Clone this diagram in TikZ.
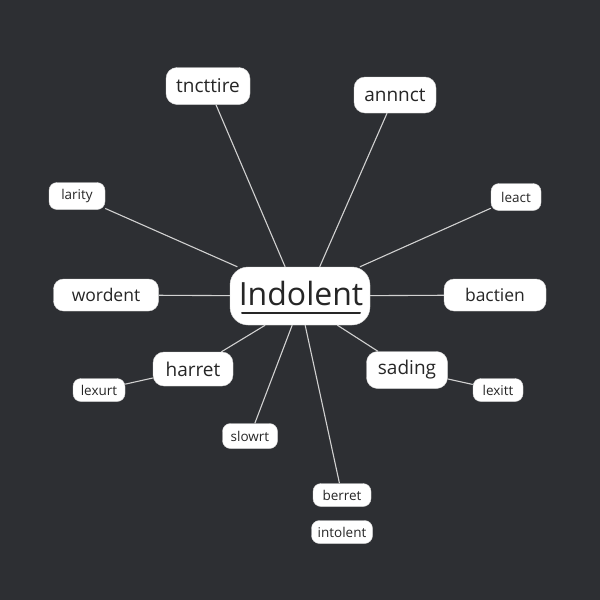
\documentclass[tikz,border=0pt]{standalone}
\usepackage{fontspec}
\setmainfont{Open Sans}
\begin{document}
\begin{tikzpicture}[x=1pt,y=-1pt,
  bub/.style={draw=white!85!black, fill=white, rounded corners=11pt, inner sep=0pt, text=black!85},
  big/.style={bub, font=\fontsize{19}{22}\selectfont},
  mid/.style={bub, font=\fontsize{17.5}{20}\selectfont, rounded corners=10pt},
  sml/.style={bub, font=\fontsize{13.5}{15}\selectfont, rounded corners=8pt},
  link/.style={draw=white!82!black, line width=1.1pt}]
\fill[fill={rgb,255:red,45;green,47;blue,51}] (0,0) rectangle (600,600);
\useasboundingbox (0,0) rectangle (600,600);
\node[bub, minimum width=140pt, minimum height=58pt, rounded corners=18pt] (c) at (300,296) {};
\node[font=\fontsize{32}{34}\selectfont, text=black!85, inner sep=0pt] (ct) at (301,293) {Indolent};
\draw[line width=2pt, black!85, line cap=round] (242,313) -- (360,313);
\node[big, minimum width=84pt, minimum height=37pt] (t) at (208,86) {tncttire};
\node[big, minimum width=82pt, minimum height=36pt] (a) at (395,95) {annnct};
\node[sml, minimum width=56pt, minimum height=27pt] (l) at (77,196) {larity};
\node[sml, minimum width=50pt, minimum height=27pt] (le) at (516,197) {leact};
\node[mid, minimum width=105pt, minimum height=32pt] (w) at (106,295) {wordent};
\node[mid, minimum width=102pt, minimum height=32pt] (b) at (495,295) {bactien};
\node[big, minimum width=80pt, minimum height=34pt] (h) at (193,369) {harret};
\node[big, minimum width=81pt, minimum height=37pt] (s) at (407,370) {sading};
\node[sml, minimum width=52pt, minimum height=23pt] (lx) at (99,390) {lexurt};
\node[sml, minimum width=50pt, minimum height=23pt] (li) at (498,390) {lexitt};
\node[sml, minimum width=55pt, minimum height=25pt] (sl) at (250,436) {slowrt};
\node[sml, minimum width=58pt, minimum height=23pt] (be) at (342,495) {berret};
\node[sml, minimum width=61pt, minimum height=23pt] (in) at (342,532) {intolent};
\path[link] (t) -- (c.117);
\path[link] (a) -- (c.56);
\path[link] (l) -- (c.155);
\path[link] (le) -- (c.26);
\path[link] (w) -- (c);
\path[link] (b) -- (c);
\path[link] (h) -- (c.-140);
\path[link] (s) -- (c.-38);
\path[link] (lx) -- (h);
\path[link] (li) -- (s);
\path[link] (sl) -- (c.-105);
\path[link] (be) -- (c.-80);
\end{tikzpicture}
\end{document}
